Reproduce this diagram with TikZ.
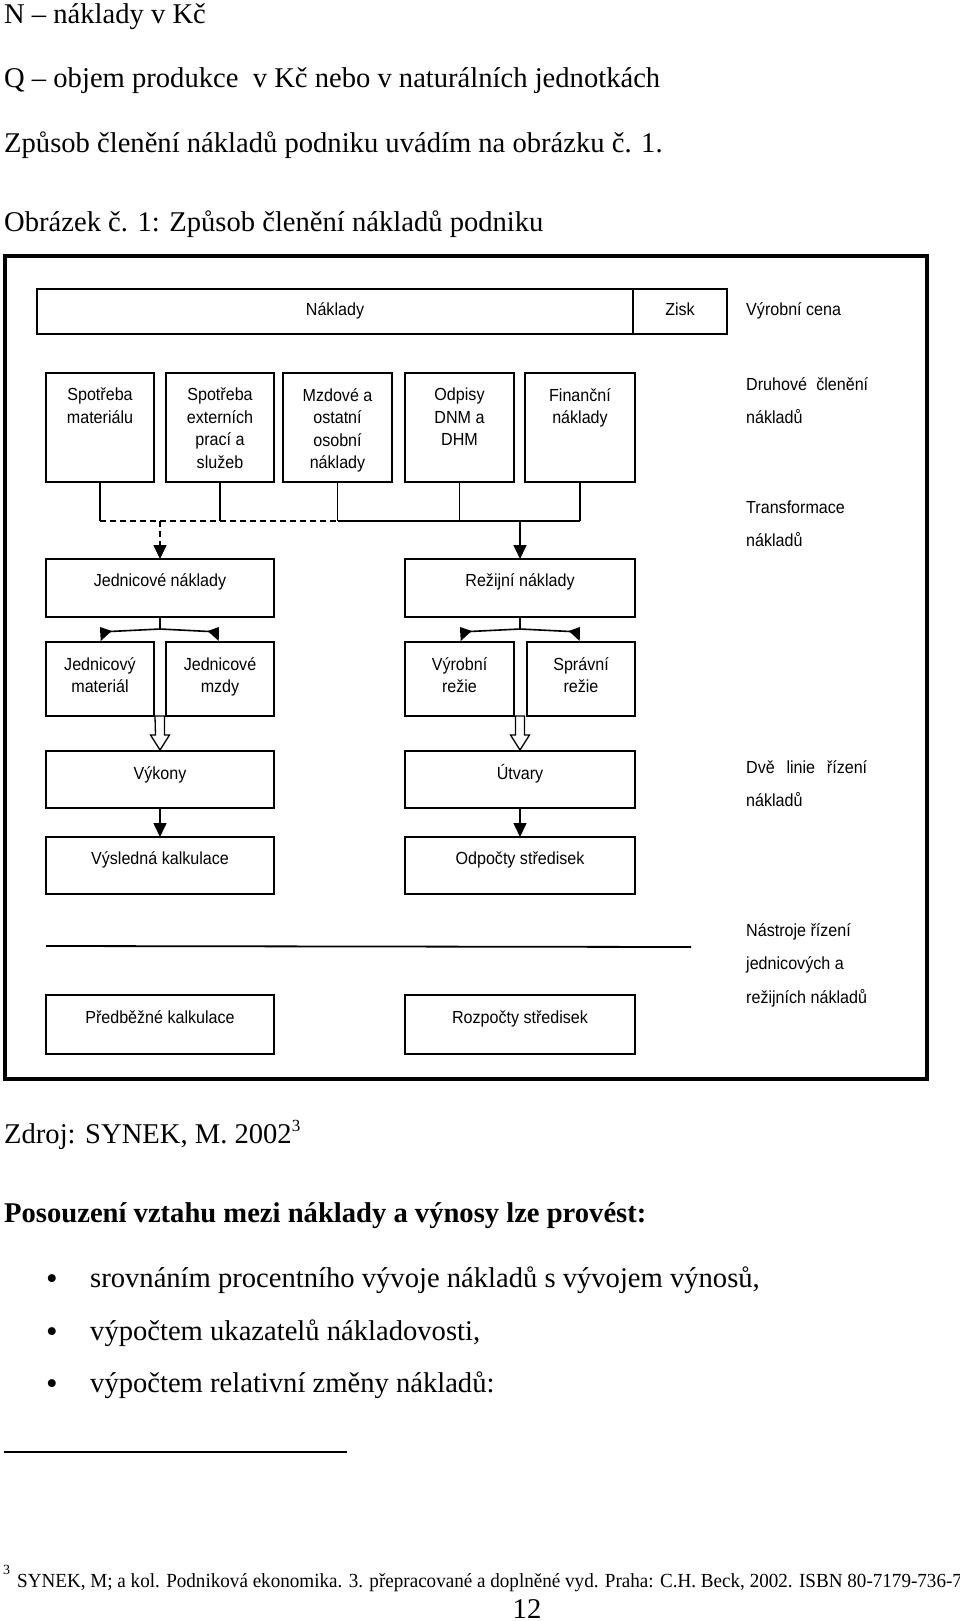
\documentclass[tikz,border=0pt]{standalone}
\usepackage{fontspec}
\setmainfont{Liberation Serif}
\newfontfamily\dsans[FakeStretch=0.92]{Liberation Sans}
\usetikzlibrary{arrows.meta}
\newcommand\mkbox[5]{\node[bx, minimum width={(#4-#2)*1pt}, minimum height={(#5-#3)*1pt}] (#1) at ({(#2+#4)/2},{(#3+#5)/2}) {};}
\begin{document}
\begin{tikzpicture}[x=1pt,y=-1pt,
  bx/.style={draw,line width=1.6pt,inner sep=0pt,outer sep=0pt},
  lab/.style={font=\dsans\fontsize{17.5}{22.5}\selectfont, inner sep=0pt, align=center},
  side/.style={font=\dsans\fontsize{17.5}{22.5}\selectfont, inner sep=0pt, anchor=base west},
  body/.style={font=\fontsize{28.6}{33}\selectfont, inner sep=0pt, anchor=base west},
  conn/.style={line width=1.6pt},
  arr/.style={conn,-{Triangle[length=14pt,width=13pt]}},
  tri/.style={fill=black},
  hollow/.style={draw,line width=1.3pt,fill=white},
]
\useasboundingbox (0,0) rectangle (960,1621);
% ---------- text above ----------
\node[body] (t1) at (4,24) {N – náklady v Kč};
\node[body] (t2) at (4,88) {Q – objem produkce \ v Kč nebo v naturálních jednotkách};
\node[body] (t3) at (4,153) {Způsob členění nákladů podniku uvádím na obrázku č. 1.};
\node[body] (t4) at (4,232) {Obrázek č. 1: Způsob členění nákladů podniku};
% ---------- frame ----------
\draw[line width=4pt] (5,256) rectangle (927,1079);
% ---------- top row ----------
\mkbox{nak}{37}{289}{633}{334}
\mkbox{zisk}{633}{289}{727}{334}
\node[lab,anchor=base] (naktx) at (335,315) {Náklady};
\node[lab,anchor=base] (zisktx) at (680,315) {Zisk};
\node[side] (vc) at (746,315) {Výrobní cena};
% ---------- second row ----------
\mkbox{s1}{46}{373}{154}{482}
\mkbox{s2}{166}{373}{274}{482}
\mkbox{s3}{283}{373}{392}{482}
\mkbox{s4}{405}{373}{514}{482}
\mkbox{s5}{525}{373}{635}{482}
\node[lab,anchor=north] (s1t) at (100,388) {Spotřeba\\materiálu};
\node[lab,anchor=north] (s2t) at (220,388) {Spotřeba\\externích\\prací a\\služeb};
\node[lab,anchor=north] (s3t) at (337.5,388) {Mzdové a\\ostatní\\osobní\\náklady};
\node[lab,anchor=north] (s4t) at (459.5,388) {Odpisy\\DNM a\\DHM};
\node[lab,anchor=north] (s5t) at (580,388) {Finanční\\náklady};
\node[side] (dc1) at (746,390) {\makebox[122pt][s]{Druhové\hfill členění}};
\node[side] (dc2) at (746,423) {nákladů};
% ---------- bus ----------
\coordinate (b1) at (100,521);
\coordinate (b2) at (220,521);
\coordinate (b3) at (337.5,521);
\coordinate (b4) at (459.5,521);
\coordinate (b5) at (580,521);
\coordinate (bj) at (160,521);
\coordinate (br) at (520,521);
\draw[conn] (s1.south -| b1) -- (b1);
\draw[conn] (s2.south -| b2) -- (b2);
\draw[conn] (s3.south -| b3) -- (b3);
\draw[conn] (s4.south -| b4) -- (b4);
\draw[conn] (s5.south -| b5) -- (b5);
\draw[conn,dash pattern=on 6pt off 4pt] (b1) -- (b3);
\draw[conn] (b3) -- (b5);
\node[side] (tf1) at (746,513) {Transformace};
\node[side] (tf2) at (746,546) {nákladů};
% ---------- third row ----------
\mkbox{jn}{46}{559}{274}{617}
\mkbox{rn}{405}{559}{635}{617}
\node[lab,anchor=base] (jnt) at (160,586) {Jednicové náklady};
\node[lab,anchor=base] (rnt) at (520,586) {Režijní náklady};
\draw[arr,dash pattern=on 6pt off 4pt] (bj) -- (jn.north);
\draw[arr] (br) -- (rn.north);
% ---------- sub boxes ----------
\mkbox{jm}{46}{642}{154}{716}
\mkbox{jz}{166}{642}{274}{716}
\mkbox{vr}{405}{642}{514}{716}
\mkbox{sr}{527}{642}{635}{716}
\node[lab,anchor=north] (jmt) at (100,657) {Jednicový\\materiál};
\node[lab,anchor=north] (jzt) at (220,657) {Jednicové\\mzdy};
\node[lab,anchor=north] (vrt) at (459.5,657) {Výrobní\\režie};
\node[lab,anchor=north] (srt) at (581,657) {Správní\\režie};
% split connectors
\coordinate (jsp) at (160,629);
\coordinate (rsp) at (520,629);
\coordinate (jl) at (100,632);
\coordinate (jr) at (219,632);
\coordinate (rl) at (460,632);
\coordinate (rr) at (580,632);
\draw[conn] (jn.south) -- (jsp);
\draw[conn] (jl) -- (jsp) -- (jr);
\draw[conn] (rn.south) -- (rsp);
\draw[conn] (rl) -- (rsp) -- (rr);
\fill[tri] (jl) ++(0,-5) -- ++(0.7,14) -- ++(11,-10) -- cycle;
\fill[tri] (jr) ++(0,-5) -- ++(-0.3,14) -- ++(-11,-10) -- cycle;
\fill[tri] (rl) ++(0,-5) -- ++(0.7,14) -- ++(11,-10) -- cycle;
\fill[tri] (rr) ++(0,-5) -- ++(-0.3,14) -- ++(-11,-10) -- cycle;
% hollow arrows
\draw[hollow] (155,716) -- (164.5,716) -- (164.5,735) -- (169.5,735) -- (160,750) -- (150.5,735) -- (155.5,735) -- cycle;
\draw[hollow] (515.5,716) -- (524.5,716) -- (524.5,735) -- (529.5,735) -- (520,750) -- (510.5,735) -- (515.5,735) -- cycle;
% ---------- Výkony / Útvary ----------
\mkbox{vk}{46}{751}{274}{808}
\mkbox{ut}{405}{751}{635}{808}
\node[lab,anchor=base] (vkt) at (160,779) {Výkony};
\node[lab,anchor=base] (utt) at (520,779) {Útvary};
\node[side] (dl1) at (746,773) {\makebox[121pt][s]{Dvě\hfill linie\hfill řízení}};
\node[side] (dl2) at (746,806) {nákladů};
\mkbox{vs}{46}{837}{274}{894}
\mkbox{os}{405}{837}{635}{894}
\node[lab,anchor=base] (vst) at (160,864) {Výsledná kalkulace};
\node[lab,anchor=base] (ost) at (520,864) {Odpočty středisek};
\draw[arr] (vk.south) -- (vs.north);
\draw[arr] (ut.south) -- (os.north);
% separator
\coordinate (sepa) at (46,946);
\coordinate (sepb) at (691,947);
\draw[line width=1.8pt] (sepa) -- (sepb);
\node[side] (ns1) at (746,936) {Nástroje řízení};
\node[side] (ns2) at (746,969) {jednicových a};
\node[side] (ns3) at (746,1003) {režijních nákladů};
\mkbox{pk}{46}{995}{274}{1054}
\mkbox{rs}{405}{995}{635}{1054}
\node[lab,anchor=base] (pkt) at (160,1023) {Předběžné kalkulace};
\node[lab,anchor=base] (rst) at (520,1023) {Rozpočty středisek};
% ---------- text below ----------
\node[body] (zd) at (4,1143) {Zdroj: SYNEK, M. 2002\raisebox{12pt}{\fontsize{17}{17}\selectfont 3}};
\node[body,font=\fontsize{28.6}{33}\selectfont\bfseries] (po) at (4,1222) {Posouzení vztahu mezi náklady a výnosy lze provést:};
\node[body,font=\fontsize{33}{33}\selectfont] (bu1) at (46,1289) {•};
\node[body,font=\fontsize{33}{33}\selectfont] (bu2) at (46,1342) {•};
\node[body,font=\fontsize{33}{33}\selectfont] (bu3) at (46,1394) {•};
\node[body] (l1) at (90,1287) {srovnáním procentního vývoje nákladů s vývojem výnosů,};
\node[body] (l2) at (90,1340) {výpočtem ukazatelů nákladovosti,};
\node[body] (l3) at (90,1392) {výpočtem relativní změny nákladů:};
\coordinate (fra) at (4,1452);
\coordinate (frb) at (347,1452);
\draw[line width=1.6pt] (fra) -- (frb);
\node[body,font=\fontsize{14}{14}\selectfont] (fn3) at (3,1574) {3};
\node[body,font=\fontsize{20}{24}\selectfont] (fn) at (17,1587) {\scalebox{0.955}[1]{SYNEK, M; a kol. Podniková ekonomika. 3. přepracované a doplněné vyd. Praha: C.H. Beck, 2002. ISBN 80-7179-736-7}};
\node[body,anchor=base] (pg) at (527,1618) {12};
\end{tikzpicture}
\end{document}
